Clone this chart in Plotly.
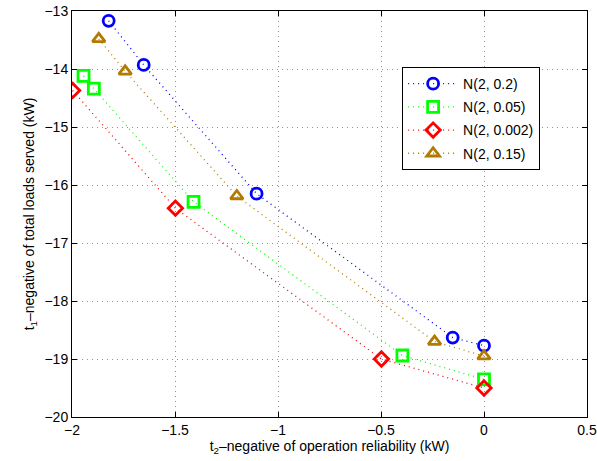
import plotly.graph_objects as go

names = ["N(2, 0.2)", "N(2, 0.05)", "N(2, 0.002)", "N(2, 0.15)"]
x_blue = [-1.822, -1.652, -1.104, -0.152, 0.0]
y_blue = [-13.17, -13.93, -16.15, -18.63, -18.77]
x_green = [-1.944, -1.894, -1.41, -0.396, 0.0]
y_green = [-14.12, -14.34, -16.29, -18.94, -19.35]
x_red = [-1.997, -1.498, -0.498, 0.0]
y_red = [-14.37, -16.40, -19.0, -19.5]
x_gold = [-1.87, -1.742, -1.2, -0.24, 0.0]
y_gold = [-13.48, -14.04, -16.19, -18.70, -18.95]

colors = ["#0000ff", "#00ff00", "#ff0000", "#b27a00"]
symbols = ["circle-open", "square-open", "diamond-open", "triangle-up-open"]
xs = [x_blue, x_green, x_red, x_gold]
ys = [y_blue, y_green, y_red, y_gold]

fig = go.Figure()
for i, (n, c, s, x, y) in enumerate(zip(names, colors, symbols, xs, ys)):
    fig.add_trace(go.Scatter(
        x=x, y=y, name=n, mode="lines+markers", legendgroup=f"g{i}",
        line=dict(color=c, width=1.3, dash="1px,4px"),
        marker=dict(symbol=s, size=11, color=c, line=dict(color=c, width=2.8)),
    ))

font = "Liberation Sans, Arial, sans-serif"
axcommon = dict(
    showline=True, linecolor="black", linewidth=1, mirror="ticks",
    ticks="inside", ticklen=5, tickcolor="black", automargin=False,
    showgrid=True, gridcolor="#909090", griddash="1px,4px", gridwidth=1,
    zeroline=False, tickfont=dict(size=14, color="black", family=font),
)
fig.update_xaxes(range=[-2, 0.5], dtick=0.5, tick0=0,
                 title=dict(text="t<sub>2</sub>–negative of operation reliability (kW)",
                            font=dict(size=14, color="black", family=font), standoff=2),
                 **axcommon)
fig.update_yaxes(range=[-20, -13], dtick=1,
                 title=dict(text="t<sub>1</sub>–negative of total loads served (kW)",
                            font=dict(size=14, color="black", family=font), standoff=6),
                 **axcommon)
fig.update_layout(
    width=597, height=461,
    margin=dict(l=72, r=10, t=11, b=44),
    plot_bgcolor="white", paper_bgcolor="white",
    font=dict(family=font, size=14, color="black"),
    legend=dict(x=0.641, y=0.862, xanchor="left", yanchor="top",
                bgcolor="white", bordercolor="black", borderwidth=1,
                font=dict(size=14, color="black", family=font),
                tracegroupgap=2, itemwidth=50),
)
fig.write_html("out.html")
